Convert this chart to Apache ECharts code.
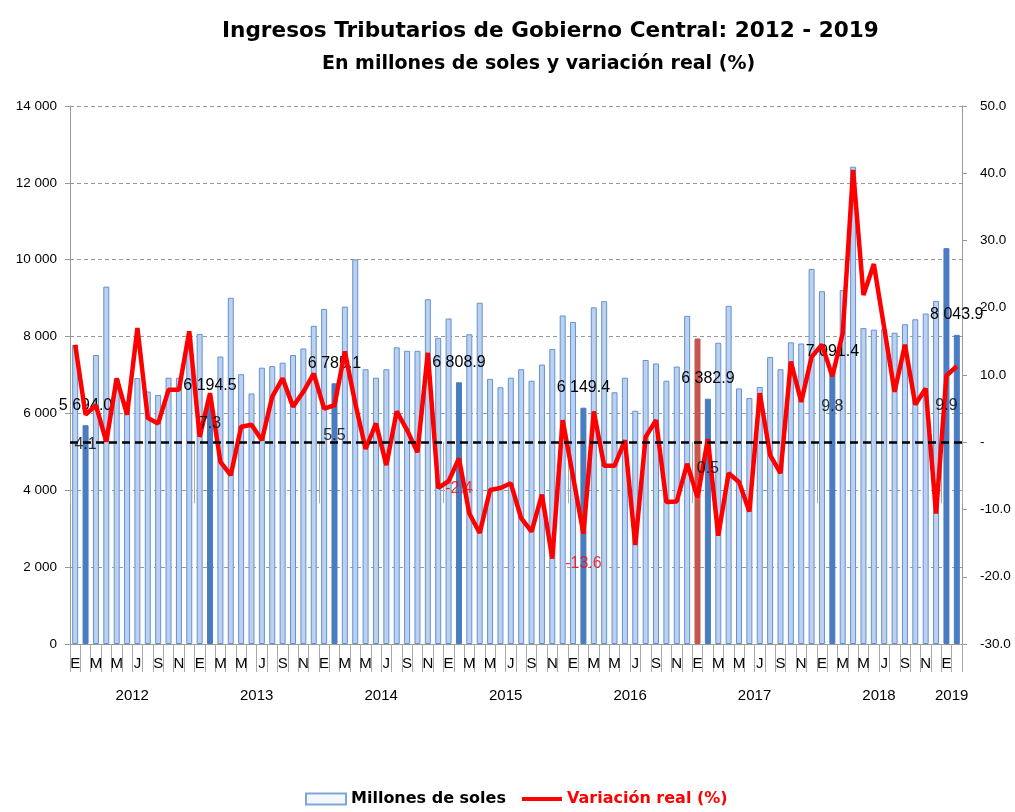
<!DOCTYPE html>
<html>
<head>
<meta charset="utf-8">
<script src="https://cdn.jsdelivr.net/npm/echarts@6/dist/echarts.min.js"></script>
<style>
  html, body { margin: 0; padding: 0; background: #fff; }
  #chart { width: 1015px; height: 812px; }
</style>
</head>
<body>
<div id="chart"></div>
<script>
// meses (E = enero ...)
var monthNames = ['E', 'F', 'M', 'A', 'M', 'J', 'J', 'A', 'S', 'O', 'N', 'D'];
var years = [2012, 2013, 2014, 2015, 2016, 2017, 2018, 2019];

// millones de soles
var soles2012 = [7780, 5694.0, 7520, 9300, 6900, 6300, 6920, 6570, 6480, 6930, 6930, 8000];
var soles2013 = [8070, 6194.5, 7480, 9010, 7020, 6520, 7190, 7230, 7320, 7520, 7690, 8280];
var soles2014 = [8720, 6785.1, 8780, 10010, 7150, 6930, 7150, 7720, 7630, 7630, 8970, 7970];
var soles2015 = [8470, 6808.9, 8060, 8880, 6900, 6680, 6930, 7150, 6850, 7270, 7680, 8550];
var soles2016 = [8380, 6149.4, 8760, 8920, 6550, 6930, 6070, 7390, 7300, 6850, 7220, 8540];
var soles2017 = [7950, 6382.9, 7840, 8800, 6650, 6400, 6690, 7470, 7150, 7850, 7820, 9760];
var soles2018 = [9180, 7091.4, 9210, 12420, 8220, 8180, 8200, 8100, 8320, 8450, 8600, 8930];
var soles2019 = [10300, 8043.9];

// variacion real (%)
var var2012 = [14.5, 4.1, 5.5, 0.1, 9.5, 4.1, 17.0, 3.6, 2.8, 7.8, 7.8, 16.5];
var var2013 = [0.8, 7.3, -2.9, -4.9, 2.3, 2.6, 0.3, 6.8, 9.5, 5.3, 7.5, 10.2];
var var2014 = [5.0, 5.5, 13.5, 5.8, -1.0, 2.8, -3.4, 4.6, 1.8, -1.5, 13.3, -6.8];
var var2015 = [-5.8, -2.4, -10.6, -13.5, -7.1, -6.8, -6.1, -11.3, -13.3, -7.8, -17.3, 3.3];
var var2016 = [-5.1, -13.6, 4.6, -3.5, -3.5, 0.3, -15.3, 0.8, 3.3, -8.9, -8.8, -3.2];
var var2017 = [-8.2, 0.5, -13.9, -4.6, -5.9, -10.3, 7.3, -1.9, -4.6, 12.0, 6.0, 12.7];
var var2018 = [14.5, 9.8, 16.2, 40.5, 21.9, 26.5, 17.0, 7.5, 14.5, 5.6, 8.0, -10.6];
var var2019 = [9.9, 11.3];

// meses resaltados y etiquetados
var darkIdx = [1, 13, 25, 37, 49, 61, 73, 84, 85];
var redIdx = [60];
var barLabelIdx = [1, 13, 25, 37, 49, 61, 73, 85];
var lineLabelIdx = [1, 13, 25, 37, 49, 61, 73, 84];

var soles = [].concat(soles2012, soles2013, soles2014, soles2015, soles2016, soles2017, soles2018, soles2019);
var variacion = [].concat(var2012, var2013, var2014, var2015, var2016, var2017, var2018, var2019);

var months = [];
for (var i = 0; i < soles.length; i++) {
  months.push(monthNames[i % 12]);
}

function miles(v) {
  var parts = String(v).split('.');
  parts[0] = parts[0].replace(/\B(?=(\d{3})+(?!\d))/g, ' ');
  return parts.join('.');
}

var barData = soles.map(function (v, i) {
  var item = { value: v };
  if (darkIdx.indexOf(i) >= 0) {
    item.itemStyle = { color: '#4a7cc2', borderColor: '#4a7cc2' };
  } else if (redIdx.indexOf(i) >= 0) {
    item.itemStyle = { color: '#c9554f', borderColor: '#c9554f' };
  }
  return item;
});

// solo los puntos con etiqueta
var varLabels = variacion.map(function (v, i) {
  return lineLabelIdx.indexOf(i) >= 0 ? v : '-';
});

var chart = echarts.init(document.getElementById('chart'));

var option = {
  animation: false,
  title: [
    {
      text: 'Ingresos Tributarios de Gobierno Central: 2012 - 2019',
      left: 217,
      top: 15,
      textStyle: { fontFamily: 'DejaVu Sans', fontSize: 21.6, fontWeight: 'bold', color: '#000' }
    },
    {
      text: 'En millones de soles y variación real (%)',
      left: 317,
      top: 50,
      textStyle: { fontFamily: 'DejaVu Sans', fontSize: 19, fontWeight: 'bold', color: '#000' }
    }
  ],
  legend: {
    bottom: 0,
    left: 300,
    itemWidth: 40,
    itemHeight: 11,
    itemGap: 16,
    textStyle: { fontFamily: 'DejaVu Sans', fontSize: 16, fontWeight: 'bold', color: '#000' },
    data: [
      {
        name: 'Millones de soles',
        icon: 'rect',
        itemStyle: { color: '#f4f8fd', borderColor: '#7ea6d8', borderWidth: 2 }
      },
      {
        name: 'Variación real (%)',
        icon: 'path://M0,0 L40,0 L40,0 Z M0,3.5 L40,3.5 L40,7.5 L0,7.5 Z M0,11 L40,11 L40,11 Z',
        itemStyle: { color: '#ff0000' },
        textStyle: { color: '#ff0000' }
      }
    ]
  },
  grid: {
    left: 70,
    right: 53,
    top: 106,
    bottom: 168
  },
  xAxis: [
    {
      type: 'category',
      data: months,
      boundaryGap: true,
      axisLine: { lineStyle: { color: '#999', width: 1 } },
      axisTick: { show: true, interval: 0, length: 28, lineStyle: { color: '#aaa' } },
      axisLabel: {
        interval: 1,
        margin: 12,
        fontFamily: 'Liberation Sans',
        fontSize: 15,
        color: '#000'
      }
    },
    {
      type: 'value',
      position: 'bottom',
      min: 0,
      max: soles.length,
      axisLine: { show: false },
      splitLine: { show: false },
      axisTick: {
        show: true,
        length: 61,
        customValues: [0, 12, 24, 36, 48, 60, 72, 84, 86],
        lineStyle: { color: '#aaa' }
      },
      axisLabel: {
        margin: 44,
        customValues: [6, 18, 30, 42, 54, 66, 78, 85],
        formatter: function (v) { return String(years[Math.floor(v / 12)]); },
        fontFamily: 'Liberation Sans',
        fontSize: 15,
        color: '#000'
      }
    }
  ],
  yAxis: [
    {
      type: 'value',
      min: 0,
      max: 14000,
      interval: 2000,
      axisLine: { show: true, lineStyle: { color: '#999' } },
      axisTick: { show: true, length: 5, lineStyle: { color: '#999' } },
      axisLabel: {
        margin: 13,
        formatter: function (v) { return miles(v); },
        fontFamily: 'Liberation Sans',
        fontSize: 13.5,
        color: '#000'
      },
      splitLine: { show: true, lineStyle: { color: '#999', type: [4, 3], width: 1 } }
    },
    {
      type: 'value',
      min: -30,
      max: 50,
      interval: 10,
      position: 'right',
      axisLine: { show: true, lineStyle: { color: '#999' } },
      axisTick: { show: true, length: 5, lineStyle: { color: '#999' } },
      axisLabel: {
        margin: 18,
        formatter: function (v) { return v === 0 ? '-' : v.toFixed(1); },
        fontFamily: 'Liberation Sans',
        fontSize: 13.5,
        color: '#000'
      },
      splitLine: { show: false }
    }
  ],
  series: [
    {
      name: 'Millones de soles',
      type: 'bar',
      xAxisIndex: 0,
      yAxisIndex: 0,
      barWidth: 6,
      data: barData,
      itemStyle: { color: '#bcd1ed', borderColor: '#6392d4', borderWidth: 1 },
      label: {
        show: true,
        position: 'top',
        distance: 12,
        fontFamily: 'Liberation Sans',
        fontSize: 16,
        color: '#000',
        formatter: function (p) {
          return barLabelIdx.indexOf(p.dataIndex) >= 0 ? miles(p.value.toFixed(1)) : '';
        }
      },
      z: 2
    },
    {
      name: 'Variación real (%)',
      type: 'line',
      xAxisIndex: 0,
      yAxisIndex: 1,
      data: variacion,
      symbol: 'none',
      lineStyle: { color: '#ff0000', width: 4.5 },
      itemStyle: { color: '#ff0000' },
      markLine: {
        silent: true,
        symbol: 'none',
        label: { show: false },
        lineStyle: { color: '#000', type: [8, 5], width: 2.5 },
        data: [{ yAxis: 0 }]
      },
      z: 3
    },
    {
      name: 'etiquetas',
      type: 'scatter',
      xAxisIndex: 0,
      yAxisIndex: 1,
      data: varLabels,
      symbolSize: 0,
      silent: true,
      label: {
        show: true,
        position: 'bottom',
        distance: 22,
        fontFamily: 'Liberation Sans',
        fontSize: 16,
        formatter: function (p) {
          return p.value < 0 ? '{neg|' + p.value.toFixed(1) + '}' : '{pos|' + p.value.toFixed(1) + '}';
        },
        rich: {
          pos: { color: '#000', fontSize: 16, fontFamily: 'Liberation Sans' },
          neg: { color: '#ff0000', fontSize: 16, fontFamily: 'Liberation Sans' }
        }
      },
      z: 4
    }
  ]
};

chart.setOption(option);
</script>
</body>
</html>
